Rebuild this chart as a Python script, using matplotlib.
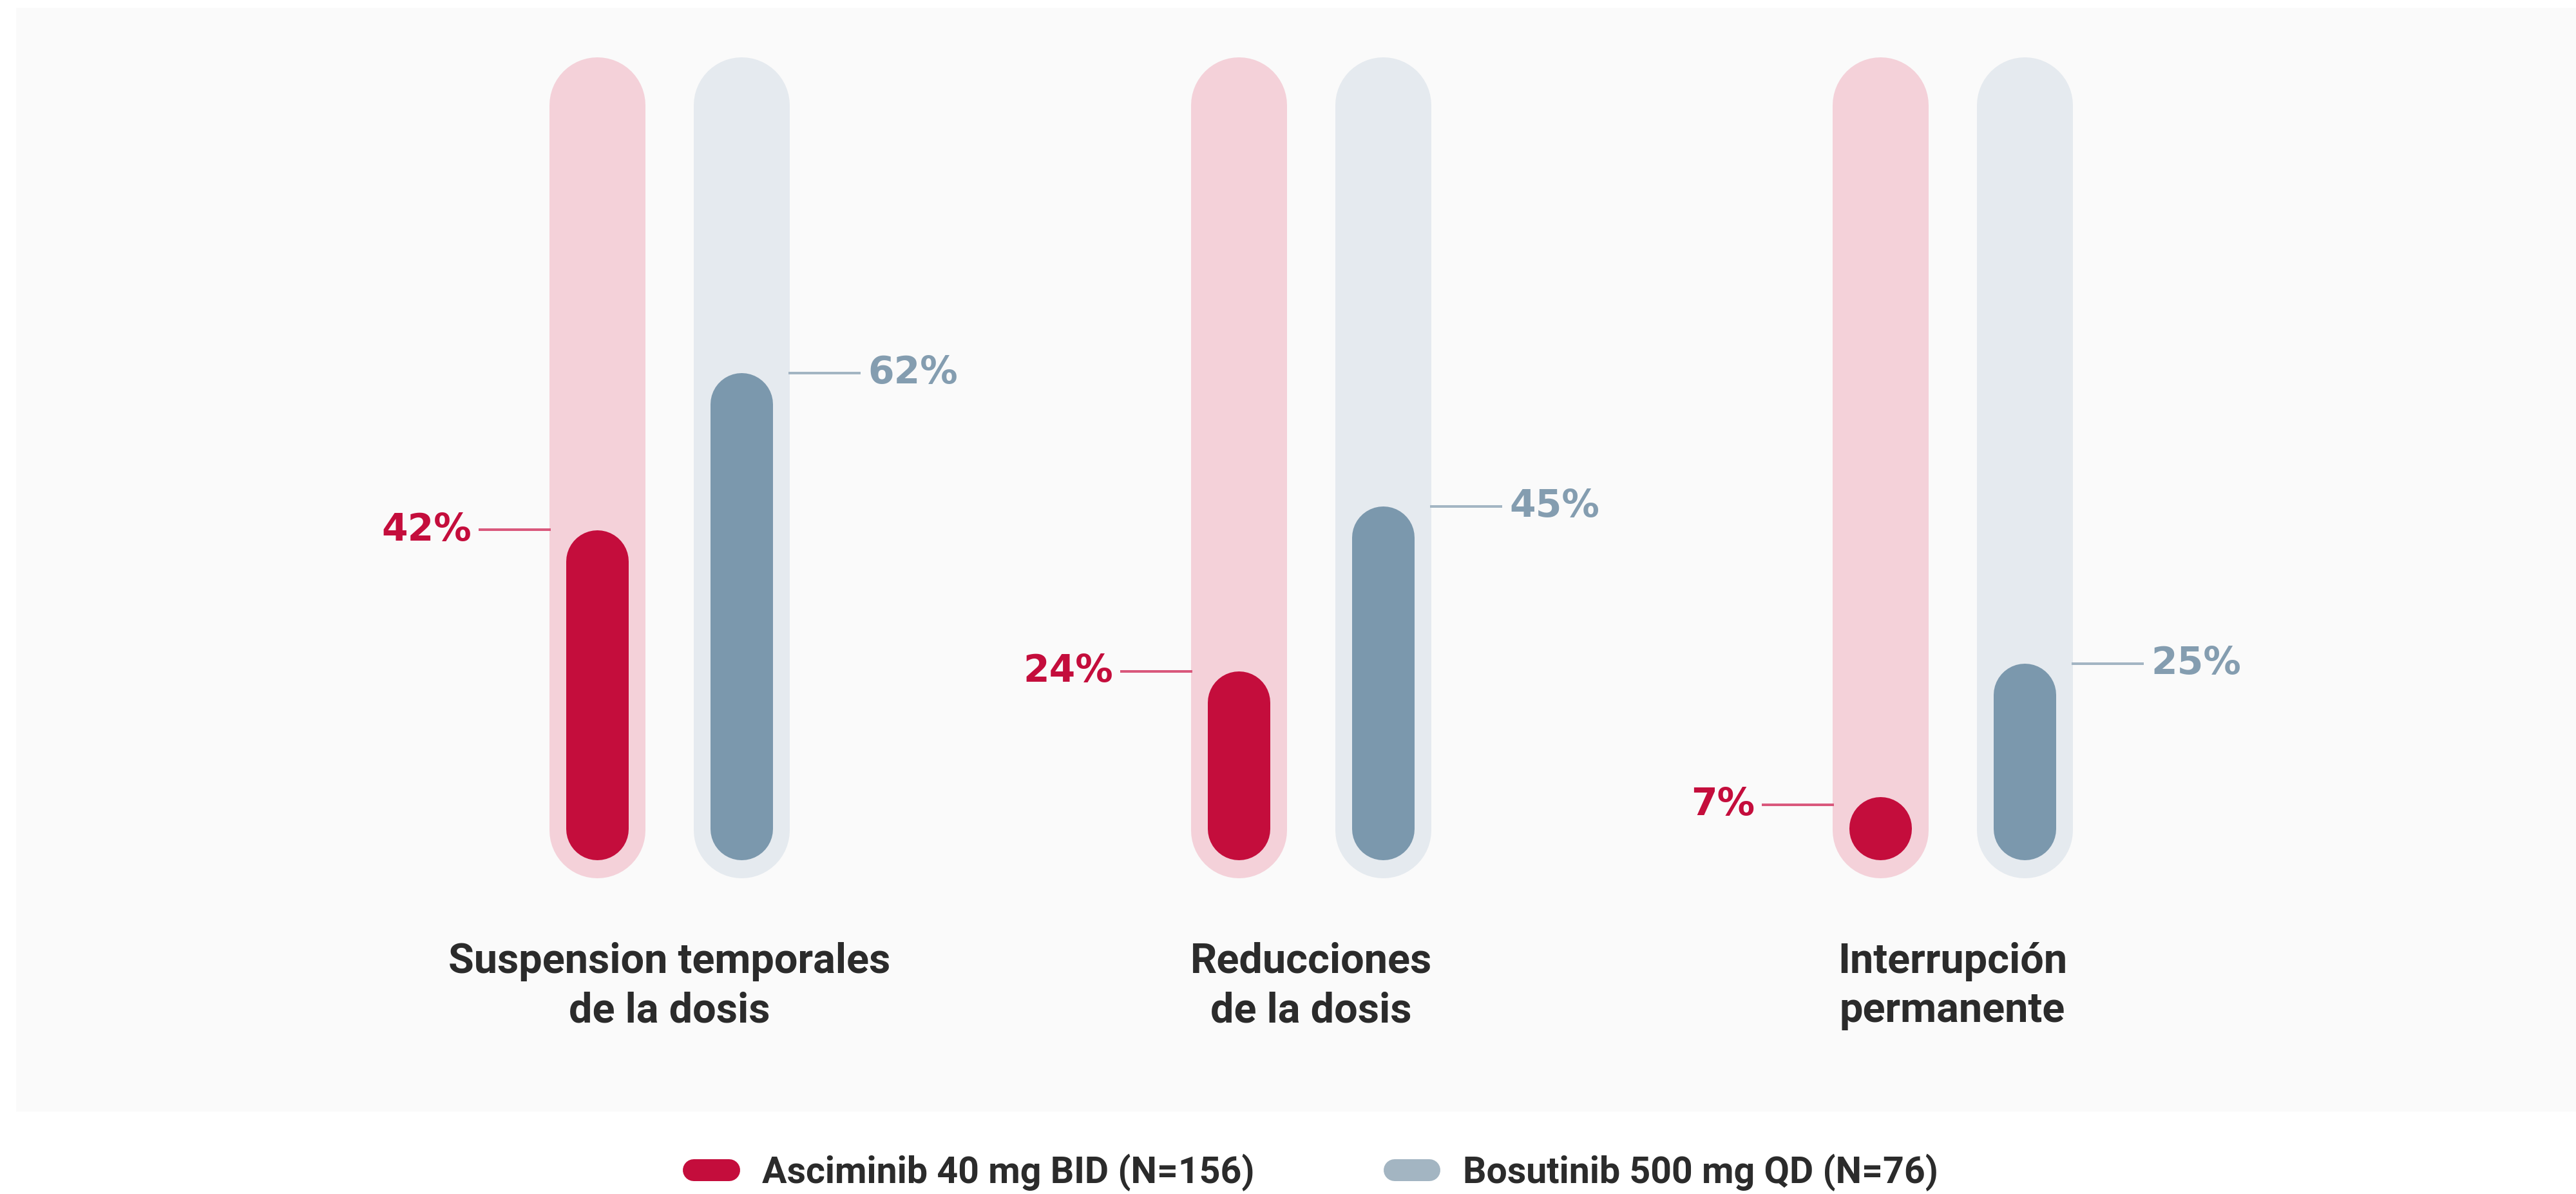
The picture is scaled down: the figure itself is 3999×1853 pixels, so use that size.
import matplotlib
matplotlib.use("Agg")
import matplotlib.pyplot as plt
from matplotlib.lines import Line2D
from matplotlib.patches import Rectangle

# data
categories = ["Suspension temporales\nde la dosis", "Reducciones\nde la dosis", "Interrupción\npermanente"]
asciminib = [42, 24, 7]
bosutinib = [62, 45, 25]
series_names = ["Asciminib 40 mg BID (N=156)", "Bosutinib 500 mg QD (N=76)"]

RED, RED_TRACK, RED_LINE = "#c40d3c", "#f4d1d9", "#d9587c"
GRAY, GRAY_TRACK, GRAY_LINE, GRAY_TEXT = "#7b98ad", "#e5eaef", "#a3b5c3", "#849db0"
TEXT = "#2b2b2b"

plt.rcParams["font.family"] = ["Roboto", "DejaVu Sans"]
PCT_FONT = ["DejaVu Sans"]

W, H, DPI = 3999, 1853, 200
pt = 72 / DPI  # points per pixel
fig = plt.figure(figsize=(W / DPI, H / DPI), dpi=DPI, facecolor="white")

# light panel behind the chart
fig.patches.append(Rectangle((25 / W, 1 - 1725 / H), 1 - 25 / W, (1725 - 12) / H,
                             transform=fig.transFigure, facecolor="#fafafa",
                             edgecolor="none", zorder=-1))

# axes: 0 % at the bottom of the fills, 100 % at the top of the track interior
y0_px, y100_px = 1334, 116
ax = fig.add_axes([0, 1 - y0_px / H, 1, (y0_px - y100_px) / H])
ax.set_zorder(1)
ax.set_facecolor("none")
first_px, last_px = 1039, 3031
unit = (last_px - first_px) / 2
ax.set_xlim(-first_px / unit, (W - first_px) / unit)
ax.set_ylim(0, 100)
for s in ax.spines.values():
    s.set_visible(False)
ax.set_yticks([])

px_y = (y0_px - y100_px) / 100
outer_w, inner_w, pad = 149, 97, 28
offset = 112 / unit


def capsule(x, lo, hi, width_px, color, z):
    r = width_px / 2 / px_y
    top = max(hi - r, lo + r + 0.01)
    ax.plot([x, x], [lo + r, top], color=color, lw=width_px * pt,
            solid_capstyle="round", zorder=z, clip_on=False)


for i in range(len(categories)):
    xr, xg = i - offset, i + offset
    for x, track in ((xr, RED_TRACK), (xg, GRAY_TRACK)):
        capsule(x, -pad / px_y, 100 + pad / px_y, outer_w, track, 1)
    capsule(xr, 0, asciminib[i], inner_w, RED, 2)
    capsule(xg, 0, bosutinib[i], inner_w, GRAY, 2)

    edge = xr - outer_w / 2 / unit
    ax.plot([edge - 108 / unit, edge], [asciminib[i]] * 2, color=RED_LINE, lw=4 * pt)
    ax.text(edge - 120 / unit, asciminib[i], f"{asciminib[i]}%", ha="right", va="center",
            color=RED, fontsize=21, fontweight="bold", family=PCT_FONT)

    edge = xg + outer_w / 2 / unit
    ax.plot([edge, edge + 108 / unit], [bosutinib[i]] * 2, color=GRAY_LINE, lw=4 * pt)
    ax.text(edge + 122 / unit, bosutinib[i], f"{bosutinib[i]}%", ha="left", va="center",
            color=GRAY_TEXT, fontsize=21, fontweight="bold", family=PCT_FONT)

ax.set_xticks(range(len(categories)), categories)
ax.tick_params(axis="x", length=0, pad=46, labelsize=23.3, labelcolor=TEXT)
for lab in ax.get_xticklabels():
    lab.set_fontweight("bold")
    lab.set_linespacing(1.32)

handles = [Line2D([], [], color=c, lw=34 * pt, solid_capstyle="round") for c in (RED, "#a3b5c2")]
fig.legend(handles, series_names, loc="center", bbox_to_anchor=(2043 / W, 1 - 1820 / H),
           ncol=2, frameon=False, handlelength=0.95, handletextpad=0.9,
           columnspacing=3.8, labelcolor=TEXT, prop={"weight": "bold", "size": 20.6})

fig.savefig("out.png", dpi=DPI)
